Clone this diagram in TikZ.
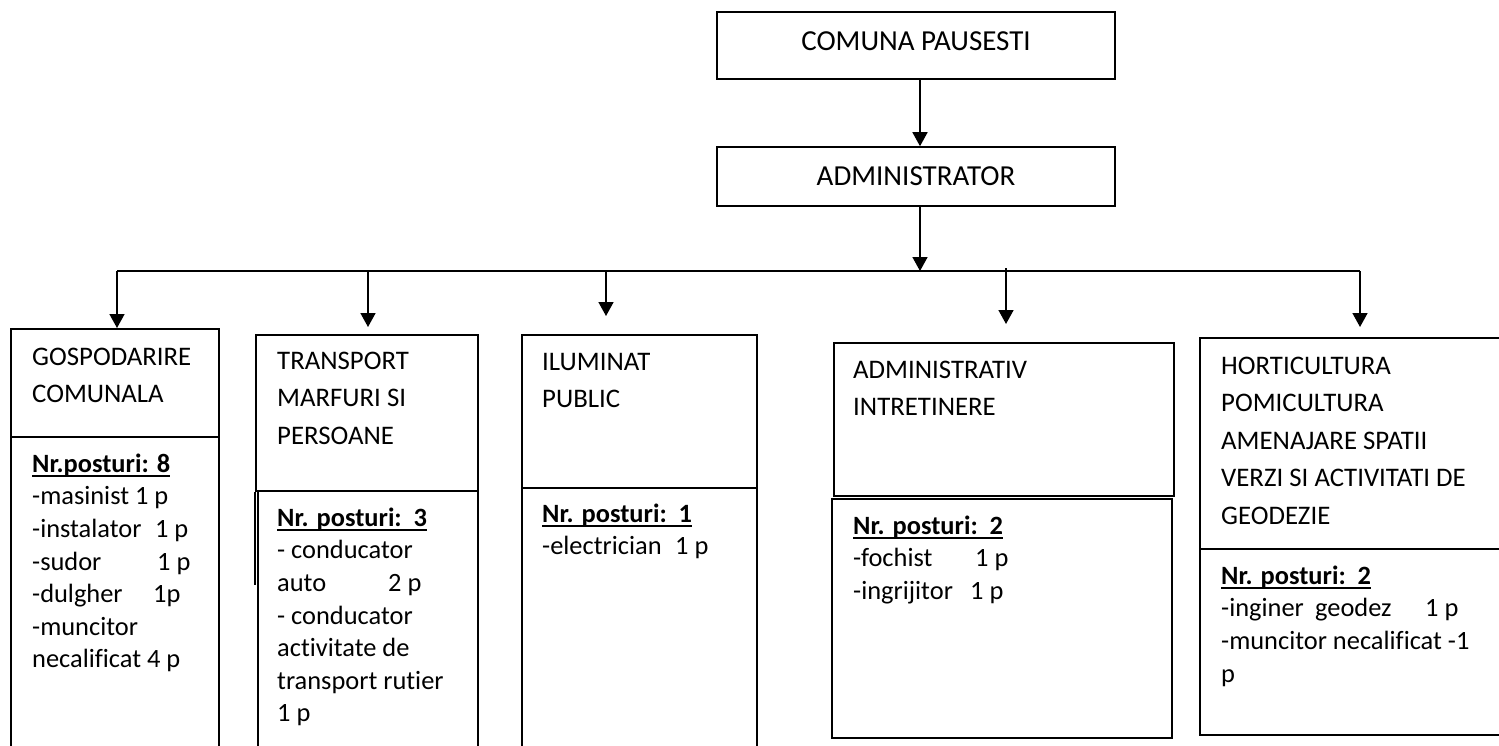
\documentclass[tikz,border=0pt]{standalone}
\usepackage{fontspec}
\setmainfont{Carlito}[Ligatures=NoCommon]
\usetikzlibrary{arrows.meta}
\newcommand\ulbf[1]{\setbox0\hbox{\bfseries #1}\rlap{\rule[-5pt]{\wd0}{1.8pt}}\box0}
\newcommand\fl{\rule{0pt}{20pt}}
\tikzset{
  ln/.style={line width=1.6pt},
  arr/.style={line width=1.6pt,-{Triangle[length=14pt,width=15pt]}},
  box/.style={draw,line width=1.6pt,rectangle,inner sep=0pt,anchor=north west},
  cbox/.style={draw,line width=1.6pt,rectangle,inner sep=0pt,minimum width=398pt,font=\fontsize{29}{35}\selectfont},
  hd/.style={anchor=north west,inner sep=0pt,align=left,font=\fontsize{26.8}{37.5}\selectfont},
  ls/.style={anchor=north west,inner sep=0pt,align=left,font=\fontsize{26.4}{32.6}\selectfont}
}
\begin{document}
\begin{tikzpicture}[x=1pt,y=-1pt]
\useasboundingbox (0,0) rectangle (1499,745);
\clip (0,0) rectangle (1499,745);
% top boxes
\node[cbox,minimum height=67pt,text height=20pt,text depth=11pt] (top) at (916,45.5) {COMUNA PAUSESTI};
\node[cbox,minimum height=59pt,text height=22pt,text depth=5pt] (adm) at (916,176.5) {ADMINISTRATOR};
% department boxes
\node[box,minimum width=208pt,minimum height=108pt] (h1) at (10,328) {};
\node[box,minimum width=208pt,minimum height=400pt] (b1) at (10,436) {};
\node[box,minimum width=222pt,minimum height=156pt] (h2) at (255,334) {};
\node[box,minimum width=220pt,minimum height=400pt] (b2) at (257,490) {};
\node[box,minimum width=235pt,minimum height=153pt] (h3) at (521,334) {};
\node[box,minimum width=235pt,minimum height=400pt] (b3) at (521,487) {};
\node[box,minimum width=340pt,minimum height=153pt] (h4) at (833,342) {};
\node[box,minimum width=340pt,minimum height=239pt] (b4) at (831,498) {};
\node[box,minimum width=320pt,minimum height=211pt] (h5) at (1199,337) {};
\node[box,minimum width=320pt,minimum height=186pt] (b5) at (1199,548) {};
\draw[ln] (h2.south west) -- ++(0,93);
% connectors
\coordinate (j) at (920,271);
\coordinate (c1) at (117,271);
\coordinate (c2) at (368,271);
\coordinate (c3) at (606,271);
\coordinate (c4) at (1006,268);
\coordinate (c5) at (1360,271);
\draw[arr] ([xshift=4pt]top.south) -- ([xshift=4pt]adm.north);
\draw[arr] ([xshift=4pt]adm.south) -- (j);
\draw[ln] (c1) -- (c5);
\draw[arr] (c1) -- (c1 |- h1.north);
\draw[arr,shorten >=7pt] (c2) -- (c2 |- h2.north);
\draw[arr,shorten >=18pt] (c3) -- (c3 |- h3.north);
\draw[arr,shorten >=18pt] (c4) -- (c4 |- h4.north);
\draw[arr,shorten >=10pt] (c5) -- (c5 |- h5.north);
% texts
\node[hd] (t1) at (32,345) {\fl GOSPODARIRE\\COMUNALA};
\node[ls] (l1) at (32,452) {\fl\ulbf{Nr.posturi: 8}\\-masinist 1 p\\\makebox[123pt][l]{-instalator}1 p\\\makebox[125pt][l]{-sudor}1 p\\\makebox[121pt][l]{-dulgher}1p\\-muncitor\\necalificat 4 p};
\node[hd] (t2) at (277,349) {\fl TRANSPORT\\MARFURI SI\\PERSOANE};
\node[ls] (l2) at (277,506) {\fl\ulbf{Nr. posturi:~~3}\\- conducator\\\makebox[111pt][l]{auto}2 p\\- conducator\\activitate de\\transport rutier\\1 p};
\node[hd] (t3) at (542,350) {\fl ILUMINAT\\PUBLIC};
\node[ls] (l3) at (542,502) {\fl\ulbf{Nr. posturi:~~1}\\\makebox[133pt][l]{-electrician}1 p};
\node[hd] (t4) at (853,358) {\fl ADMINISTRATIV\\INTRETINERE};
\node[ls] (l4) at (853,514) {\fl\ulbf{Nr. posturi:~~2}\\\makebox[122pt][l]{-fochist}1 p\\\makebox[117pt][l]{-ingrijitor}1 p};
\node[hd] (t5) at (1221,354) {\fl HORTICULTURA\\POMICULTURA\\AMENAJARE SPATII\\VERZI SI ACTIVITATI DE\\GEODEZIE};
\node[ls] (l5) at (1221,564) {\fl\ulbf{Nr. posturi:~~2}\\\makebox[94pt][l]{-inginer}\makebox[110pt][l]{geodez}1 p\\-muncitor necalificat -1\\p};
\end{tikzpicture}
\end{document}
